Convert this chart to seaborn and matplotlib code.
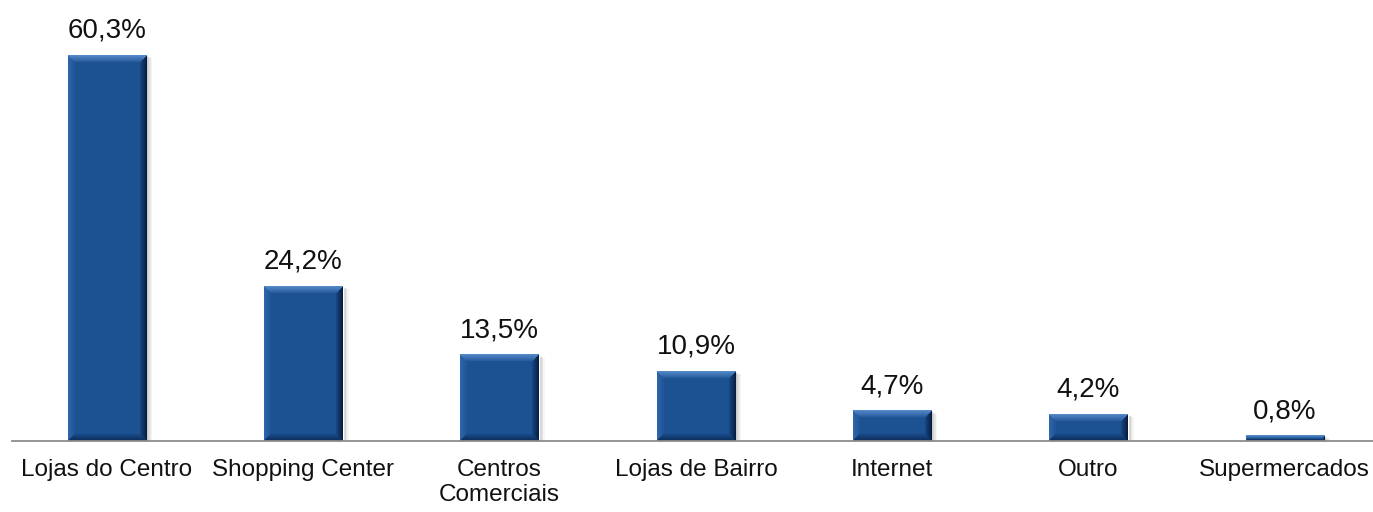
import matplotlib
matplotlib.use("Agg")
import matplotlib.pyplot as plt
import seaborn as sns
import numpy as np
import pandas as pd
from matplotlib.patches import Rectangle

categories = ["Lojas do Centro", "Shopping Center", "Centros\nComerciais",
              "Lojas de Bairro", "Internet", "Outro", "Supermercados"]
values = [60.3, 24.2, 13.5, 10.9, 4.7, 4.2, 0.8]
labels = ["60,3%", "24,2%", "13,5%", "10,9%", "4,7%", "4,2%", "0,8%"]

df = pd.DataFrame({"categoria": categories, "valor": values})

sns.set_style("white")
plt.rcParams["font.family"] = ["Liberation Sans", "DejaVu Sans"]

W_PX, H_PX = 1373, 512
fig = plt.figure(figsize=(W_PX / 100, H_PX / 100), dpi=100)
ax_left, ax_bottom, ax_top = 12, 441, 10
ax = fig.add_axes([ax_left / W_PX, 1 - ax_bottom / H_PX,
                   (W_PX - ax_left) / W_PX, (ax_bottom - ax_top) / H_PX])

cat_px = 196.3          # pixels per category slot
first_center = 107      # pixel x of first category
y_scale = 6.4           # pixels per percentage point
xmin = (ax_left - first_center) / cat_px
xmax = (W_PX - first_center) / cat_px
ymax = (ax_bottom - ax_top) / y_scale

bar_color = "#1E5394"
sns.barplot(data=df, x="categoria", y="valor", color=bar_color, width=0.40,
            saturation=1, ax=ax, zorder=3)


def bevel_image(w_px, h_px, bevel=7):
    """RGB image of a bevelled bar face."""
    w_px, h_px = max(int(round(w_px)), 2), max(int(round(h_px)), 2)
    b = max(1.0, min(bevel, h_px / 2.2))
    yy, xx = np.mgrid[0:h_px, 0:w_px].astype(float)
    d_top, d_bot = yy, h_px - 1 - yy
    d_l, d_r = xx, w_px - 1 - xx
    base = np.array([0.110, 0.318, 0.576])
    img = np.tile(base, (h_px, w_px, 1))
    dmin = np.minimum.reduce([d_top, d_bot, d_l, d_r])
    inside = dmin < b
    which = np.argmin(np.stack([d_top, d_bot, d_l, d_r]), axis=0)
    tones = [np.array([0.33, 0.53, 0.78]),   # top, lit
             np.array([0.05, 0.18, 0.36]),   # bottom, dark
             np.array([0.18, 0.40, 0.67]),   # left
             np.array([0.03, 0.12, 0.26])]   # right, darkest
    t = np.clip(1 - dmin / b, 0, 1)[..., None] * 0.9 + 0.1
    for k, tone in enumerate(tones):
        m = inside & (which == k)
        img[m] = base * (1 - t[m]) + tone * t[m]
    return img


for patch in list(ax.patches):
    x, w, h = patch.get_x(), patch.get_width(), patch.get_height()
    # soft drop shadow to the right
    for k, a in enumerate([0.10, 0.08, 0.06, 0.04]):
        off = (k + 1) * 1.5 / cat_px
        ax.add_patch(Rectangle((x + off, 0), w, h - (k + 1) * 0.12,
                               facecolor="black", alpha=a, edgecolor="none", zorder=2))
    img = bevel_image(w * cat_px, h * y_scale)
    ax.imshow(img, extent=(x, x + w, 0, h), aspect="auto", origin="upper",
              interpolation="bilinear", zorder=4)

for i, (v, lab) in enumerate(zip(values, labels)):
    ax.text(i, v + 1.8, lab, ha="center", va="bottom", fontsize=20, color="#111111")

ax.set_xlim(xmin, xmax)
ax.set_ylim(0, ymax)
ax.set_xlabel("")
ax.set_ylabel("")
ax.set_yticks([])
for s in ["top", "right", "left"]:
    ax.spines[s].set_visible(False)
ax.spines["bottom"].set_color("#8C8C8C")
ax.spines["bottom"].set_linewidth(1.3)
ax.spines["bottom"].set_zorder(6)

ax.set_xticks(range(len(categories)))
ax.set_xticklabels(categories, fontsize=17.5, color="#111111", linespacing=1.2)
ax.tick_params(axis="x", which="major", length=0, pad=13)
ax.set_xticks([xmin + 0.005] + [i + 0.5 for i in range(0, 6)], minor=True)
ax.tick_params(axis="x", which="minor", length=6, width=1.3, color="#8C8C8C", direction="out")

fig.savefig("out.png", dpi=100)
